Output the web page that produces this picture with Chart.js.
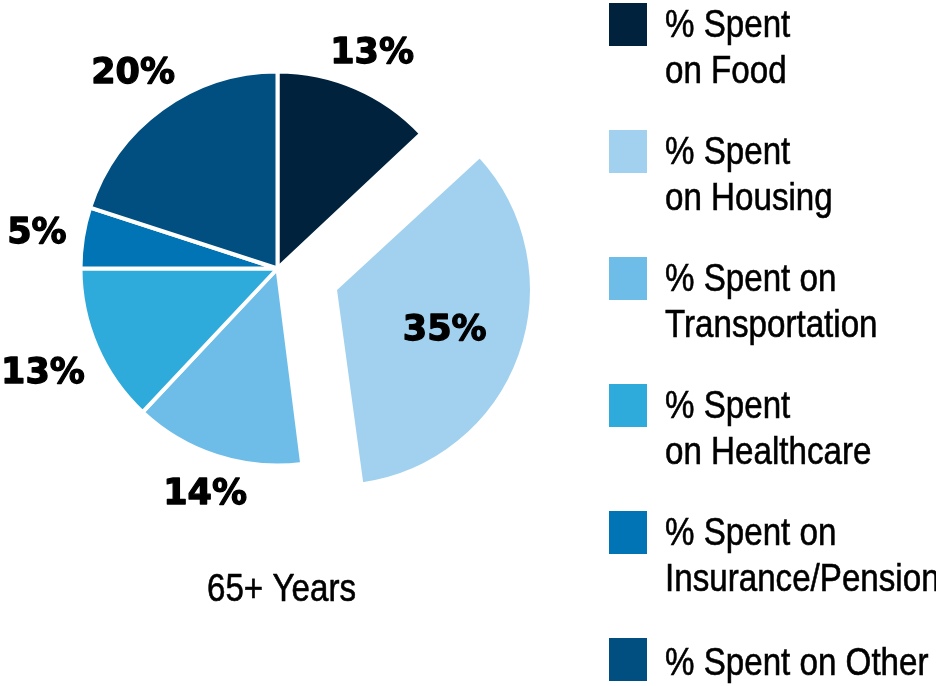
<!DOCTYPE html>
<html>
<head>
<meta charset="utf-8">
<script src="https://cdn.jsdelivr.net/npm/chart.js@4.4.0/dist/chart.umd.min.js"></script>
<style>
  html, body { margin: 0; padding: 0; background: #ffffff; }
  #wrap { position: relative; width: 936px; height: 686px; }
</style>
</head>
<body>
<div id="wrap"><canvas id="c" width="936" height="686"></canvas></div>
<script>
// ---- data ----
const categories = [
  ["% Spent", "on Food"],
  ["% Spent", "on Housing"],
  ["% Spent on", "Transportation"],
  ["% Spent", "on Healthcare"],
  ["% Spent on", "Insurance/Pension"],
  ["% Spent on Other"]
];
const shares = [13, 35, 14, 13, 5, 20];
const sliceColors = ["#00223d", "#a2d1ef", "#6ebde9", "#2eaadb", "#0074b5", "#004f80"];
const groupLabel = "65+ Years";
const explodedIndex = 1;

// ---- styling ----
const TEXT_FONT = '"Liberation Sans", Arial, sans-serif';
const TEXT_SIZE = 39;
const TEXT_SQUEEZE = 0.85; // narrow look of the original type
const LABEL_FONT = '"DejaVu Sans", sans-serif';

function narrowText(ctx, str, x, y) {
  ctx.save();
  ctx.translate(x, y);
  ctx.scale(TEXT_SQUEEZE, 1);
  ctx.fillText(str, 0, 0);
  ctx.strokeText(str, 0, 0);
  ctx.restore();
}

// Chart.js grows an offset arc's radius slightly; undo that so the exploded slice keeps the pie radius
const explodeFix = {
  id: 'explodeFix',
  afterDatasetsUpdate(chart) {
    chart.getDatasetMeta(0).data.forEach(arc => {
      const off = (arc.options && arc.options.offset) || 0;
      if (!off) return;
      const circ = arc.endAngle - arc.startAngle;
      const fix = 1 - Math.sin(Math.min(Math.PI, circ));
      arc.outerRadius -= (off / 4) * fix;
    });
  }
};

const sliceLabels = {
  id: 'sliceLabels',
  afterDatasetsDraw(chart) {
    const ctx = chart.ctx;
    const meta = chart.getDatasetMeta(0);
    const size = 35;
    const capH = size * 0.73;
    ctx.save();
    ctx.font = 'bold ' + size + 'px ' + LABEL_FONT;
    ctx.fillStyle = '#000000';
    ctx.strokeStyle = '#000000';
    ctx.lineWidth = 1.3;
    ctx.lineJoin = 'round';
    ctx.textAlign = 'center';
    ctx.textBaseline = 'alphabetic';
    meta.data.forEach((arc, i) => {
      const text = shares[i] + '%';
      const mid = (arc.startAngle + arc.endAngle) / 2;
      const off = ((arc.options && arc.options.offset) || 0) / 4;
      const dx = Math.cos(mid), dy = Math.sin(mid);
      const cx = arc.x + dx * off, cy = arc.y + dy * off;
      const R = arc.outerRadius;
      let px, py;
      if (shares[i] >= 30) {
        px = cx + dx * R * 0.63;
        py = cy + dy * R * 0.6;
      } else {
        const hw = ctx.measureText(text).width / 2, hh = capH / 2;
        const target = R + 15;
        let t = R * 0.8;
        for (; t < R * 2; t += 0.5) {
          const qx = dx * t - Math.sign(dx) * hw;
          const qy = dy * t - Math.sign(dy) * hh;
          if (Math.hypot(qx, qy) >= target) break;
        }
        px = cx + dx * t;
        py = cy + dy * t;
      }
      ctx.fillText(text, px, py + capH / 2);
      ctx.strokeText(text, px, py + capH / 2);
    });
    // group caption under the pie
    const a0 = meta.data[0];
    ctx.font = TEXT_SIZE + 'px ' + TEXT_FONT;
    ctx.lineWidth = 0.6;
    narrowText(ctx, groupLabel, a0.x + 4, 601);
    ctx.restore();
  }
};

const sideLegend = {
  id: 'sideLegend',
  afterDraw(chart) {
    const ctx = chart.ctx;
    const labels = chart.data.labels;
    const colors = chart.data.datasets[0].backgroundColor;
    const x0 = 609, top0 = 3, step = 127, boxW = 38, boxH = 43;
    ctx.save();
    ctx.font = TEXT_SIZE + 'px ' + TEXT_FONT;
    ctx.textAlign = 'left';
    ctx.textBaseline = 'alphabetic';
    ctx.strokeStyle = '#000';
    ctx.lineWidth = 0.6;
    labels.forEach((lab, i) => {
      const top = top0 + i * step;
      ctx.fillStyle = colors[i];
      ctx.fillRect(x0, top, boxW, boxH);
      ctx.fillStyle = '#000';
      const lines = Array.isArray(lab) ? lab : [lab];
      const firstBase = lines.length === 1 ? top + 37 : top + 34;
      lines.forEach((ln, j) => narrowText(ctx, ln, 665, firstBase + j * 46));
    });
    ctx.restore();
  }
};

new Chart(document.getElementById('c'), {
  type: 'pie',
  data: {
    labels: categories,
    datasets: [{
      data: shares,
      backgroundColor: sliceColors,
      borderColor: '#ffffff',
      borderWidth: 4,
      hoverOffset: 0,
      hoverBorderWidth: 4,
      offset: (ctx) => ctx.dataIndex === explodedIndex ? 244 : 0
    }]
  },
  options: {
    responsive: false,
    animation: false,
    radius: 197,
    layout: { padding: { left: 50, top: 41, right: 431, bottom: 190 } },
    plugins: {
      legend: { display: false },
      tooltip: { enabled: false },
      title: { display: false }
    },
    events: []
  },
  plugins: [explodeFix, sliceLabels, sideLegend]
});
</script>
</body>
</html>
